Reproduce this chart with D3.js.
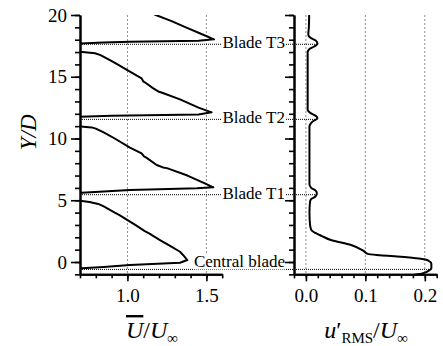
<!DOCTYPE html>
<html>
<head>
<meta charset="utf-8">
<script src="https://cdn.jsdelivr.net/npm/d3@7"></script>
<style>
  html, body { margin: 0; padding: 0; background: #fff; }
  svg text { font-family: "Liberation Serif", "DejaVu Serif", serif; }
</style>
</head>
<body>
<svg id="chart" width="443" height="346"></svg>
<script>
// Mean streamwise velocity profile: [U/Uinf, Y/D]
const meanVelocity = [
  [0.55, -1.1], [0.62, -0.75], [0.71, -0.51], [0.85, -0.40], [1.016, -0.24],
  [1.333, -0.06], [1.379, 0.16], [1.36, 0.45], [1.333, 0.83], [1.27, 1.3],
  [1.206, 1.78], [1.15, 2.22], [1.14, 2.3], [1.11, 2.5], [1.05, 3.0], [1.016, 3.27],
  [0.95, 3.8], [0.92, 4.0], [0.85, 4.5], [0.816, 4.70], [0.76, 4.85], [0.70, 4.96],
  [0.6, 5.2], [0.65, 5.5], [0.71, 5.61], [0.85, 5.70], [1.016, 5.83], [1.44, 5.97],
  [1.544, 6.05], [1.49, 6.37], [1.38, 7.0], [1.25, 7.6], [1.225, 7.66], [1.185, 7.85],
  [1.12, 8.45], [1.105, 8.55], [1.09, 8.8], [1.016, 9.26], [0.92, 10.0], [0.85, 10.5],
  [0.80, 10.8], [0.774, 10.9], [0.72, 10.96], [0.6, 11.1], [0.6, 11.6], [0.70, 11.77],
  [0.9, 11.85], [1.45, 11.95], [1.533, 12.12], [1.45, 12.5], [1.333, 13.17],
  [1.22, 13.7], [1.2, 13.78], [1.164, 14.06], [1.11, 14.55], [1.10, 14.63], [1.09, 14.87],
  [1.016, 15.42], [0.91, 16.2], [0.83, 16.75], [0.795, 16.9], [0.70, 17.03],
  [0.6, 17.2], [0.62, 17.6], [0.70, 17.7], [0.85, 17.78], [1.016, 17.84],
  [1.45, 17.92], [1.548, 18.03], [1.48, 18.4], [1.37, 19.0], [1.28, 19.5],
  [1.18, 20.0], [1.13, 20.3]
];

// Streamwise turbulence intensity profile: [u'RMS/Uinf, Y/D]
const rmsVelocity = [
  [0.175, -1.1], [0.188, -1.0], [0.196, -0.92], [0.205, -0.75], [0.211, -0.51],
  [0.211, -0.15], [0.206, 0.12], [0.19, 0.28], [0.16, 0.42], [0.125, 0.55],
  [0.104, 0.66], [0.097, 0.9], [0.076, 1.38], [0.042, 1.78], [0.027, 2.1],
  [0.016, 2.35], [0.009, 2.6], [0.007, 3.0], [0.006, 4.0], [0.007, 4.9],
  [0.009, 5.1], [0.016, 5.3], [0.0185, 5.56], [0.016, 5.8], [0.009, 6.0],
  [0.006, 6.3], [0.006, 9.0], [0.006, 11.0], [0.008, 11.2], [0.012, 11.4],
  [0.0195, 11.63], [0.016, 11.85], [0.008, 12.05], [0.003, 12.3], [0.003, 13.0],
  [0.003, 15.0], [0.003, 17.0], [0.006, 17.25], [0.014, 17.45], [0.0195, 17.7],
  [0.016, 17.95], [0.008, 18.15], [0.004, 18.4], [0.005, 19.0], [0.0055, 20.0],
  [0.0056, 20.3]
];

// Blade reference positions
const bladeNames = ["Central blade", "Blade T1", "Blade T2", "Blade T3"];
const bladeY = [-0.6, 5.45, 11.55, 17.63];
const bladeRms = [0.209, 0.0185, 0.0195, 0.0195];

// Axis ticks
const yMajorTicks = [0, 5, 10, 15, 20];
const yMinorTicks = d3.range(-1, 21, 1);
const uMajorTicks = [1.0, 1.5];
const uMinorTicks = [0.7, 0.8, 0.9, 1.0, 1.1, 1.2, 1.3, 1.4, 1.5, 1.6];
const rmsMajorTicks = [0.0, 0.1, 0.2];
const rmsMinorTicks = [-0.02, 0, 0.02, 0.04, 0.06, 0.08, 0.1, 0.12, 0.14, 0.16, 0.18, 0.2, 0.22];

const serif = "'Liberation Serif', 'DejaVu Serif', serif";
const svg = d3.select("#chart");

const y = d3.scaleLinear().domain([-1, 20]).range([274.35, 15]);
const xU = d3.scaleLinear().domain([0.7, 1.6]).range([80, 222.2]);
const xR = d3.scaleLinear().domain([-0.02, 0.22]).range([294, 436.7]);

const defs = svg.append("defs");
defs.append("clipPath").attr("id", "clipU").append("rect")
  .attr("x", xU(0.7)).attr("y", y(20)).attr("width", xU(1.6) - xU(0.7)).attr("height", y(-1) - y(20));
defs.append("clipPath").attr("id", "clipR").append("rect")
  .attr("x", xR(-0.02)).attr("y", y(20)).attr("width", xR(0.22) - xR(-0.02)).attr("height", y(-1) - y(20));

// Vertical reference lines
const grid = svg.append("g").attr("stroke", "#8a8a8a").attr("stroke-width", 1).attr("stroke-dasharray", "2,2");
uMajorTicks.forEach(v => grid.append("line")
  .attr("x1", xU(v)).attr("x2", xU(v)).attr("y1", y(20)).attr("y2", y(-1)));
rmsMajorTicks.forEach(v => grid.append("line")
  .attr("x1", xR(v)).attr("x2", xR(v)).attr("y1", y(20)).attr("y2", y(-1)));

// Horizontal blade lines
const blades = svg.append("g");
bladeNames.forEach((name, i) => {
  blades.append("line")
    .attr("x1", xU(0.7)).attr("x2", xR(bladeRms[i]))
    .attr("y1", y(bladeY[i])).attr("y2", y(bladeY[i]))
    .attr("stroke", "#000").attr("stroke-width", 1).attr("stroke-dasharray", "1,1");
  const t = blades.append("text")
    .attr("x", 285).attr("y", y(bladeY[i]) + (i === 0 ? -2 : 4))
    .attr("text-anchor", "end").attr("font-size", 17).attr("fill", "#000")
    .style("font-family", serif)
    .text(name);
  const bb = t.node().getBBox();
  blades.insert("rect", () => t.node())
    .attr("x", bb.x - 1).attr("y", bb.y + 2).attr("width", bb.width + 2).attr("height", bb.height - 4)
    .attr("fill", "#fff");
});

// Profiles
const lineU = d3.line().x(d => xU(d[0])).y(d => y(d[1]));
svg.append("path").datum(meanVelocity)
  .attr("clip-path", "url(#clipU)")
  .attr("d", lineU).attr("fill", "none").attr("stroke", "#000")
  .attr("stroke-width", 2).attr("stroke-linejoin", "round");

const lineR = d3.line().x(d => xR(d[0])).y(d => y(d[1])).curve(d3.curveMonotoneY);
svg.append("path").datum(rmsVelocity)
  .attr("clip-path", "url(#clipR)")
  .attr("d", lineR).attr("fill", "none").attr("stroke", "#000")
  .attr("stroke-width", 2).attr("stroke-linejoin", "round");

// Axes
function styleAxis(g) {
  g.attr("font-family", null);
  g.selectAll("path.domain").attr("stroke-width", 2);
  g.selectAll(".tick line").attr("stroke-width", 1.6);
  g.selectAll(".tick text").attr("font-size", 19).style("font-family", serif).attr("fill", "#000");
}

function yAxes(xPos, labels) {
  svg.append("g").attr("transform", `translate(${xPos},0)`)
    .call(d3.axisLeft(y).tickValues(yMinorTicks).tickSize(5).tickSizeOuter(0).tickFormat(""))
    .call(styleAxis);
  svg.append("g").attr("transform", `translate(${xPos},0)`)
    .call(d3.axisLeft(y).tickValues(yMajorTicks).tickSize(9).tickSizeOuter(0).tickPadding(4)
      .tickFormat(labels ? d3.format("d") : ""))
    .call(styleAxis);
}
yAxes(xU(0.7), true);
yAxes(xR(-0.02), false);

function xAxes(scale, minor, major, fmt) {
  svg.append("g").attr("transform", `translate(0,${y(-1)})`)
    .call(d3.axisBottom(scale).tickValues(minor).tickSize(4).tickSizeOuter(0).tickFormat(""))
    .call(styleAxis);
  svg.append("g").attr("transform", `translate(0,${y(-1)})`)
    .call(d3.axisBottom(scale).tickValues(major).tickSize(7).tickSizeOuter(0).tickPadding(7).tickFormat(d3.format(fmt)))
    .call(styleAxis);
}
xAxes(xU, uMinorTicks, uMajorTicks, ".1f");
xAxes(xR, rmsMinorTicks, rmsMajorTicks, ".1f");

// Axis titles
svg.append("text")
  .attr("transform", `translate(36,${y(10.5)}) rotate(-90)`)
  .attr("text-anchor", "middle").attr("font-size", 23).attr("font-style", "italic")
  .style("font-family", serif)
  .text("Y/D");

const tU = svg.append("text").attr("x", 152).attr("y", 338)
  .attr("text-anchor", "middle").attr("font-size", 24).style("font-family", serif);
tU.append("tspan").attr("font-style", "italic").attr("text-decoration", "overline").text("U");
tU.append("tspan").text("/");
tU.append("tspan").attr("font-style", "italic").text("U");
tU.append("tspan").attr("font-size", 15).attr("dy", 5).text("∞");

const tR = svg.append("text").attr("x", 366).attr("y", 338)
  .attr("text-anchor", "middle").attr("font-size", 24).style("font-family", serif);
tR.append("tspan").attr("font-style", "italic").text("u");
tR.append("tspan").text("′");
tR.append("tspan").attr("font-size", 15).attr("dy", 5).text("RMS");
tR.append("tspan").attr("dy", -5).text("/");
tR.append("tspan").attr("font-style", "italic").text("U");
tR.append("tspan").attr("font-size", 15).attr("dy", 5).text("∞");
</script>
</body>
</html>
